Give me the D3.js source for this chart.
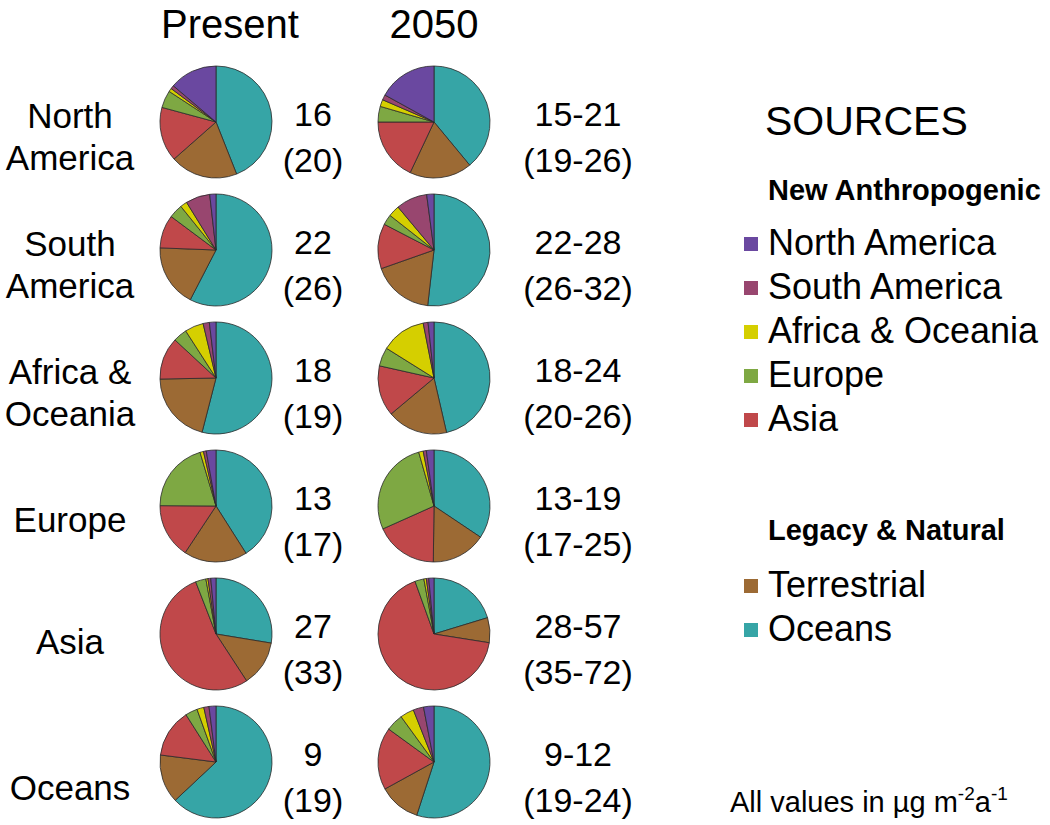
<!DOCTYPE html>
<html>
<head>
<meta charset="utf-8">
<script src="https://cdn.jsdelivr.net/npm/d3@7"></script>
<style>
  body { margin: 0; background: #fff; }
  svg { font-family: "Liberation Sans", Arial, sans-serif; }
</style>
</head>
<body>
<svg id="chart" width="1050" height="825" viewBox="0 0 1050 825"></svg>
<script>
// receptor regions (rows) and their labels
const regions = ["North America", "South America", "Africa & Oceania", "Europe", "Asia", "Oceans"];
const rowLabels = [["North", "America"], ["South", "America"], ["Africa &", "Oceania"], ["Europe"], ["Asia"], ["Oceans"]];
const periods = ["Present", "2050"];

// source order, clockwise from 12 o'clock
const sources = ["Oceans", "Terrestrial", "Asia", "Europe", "Africa & Oceania", "South America", "North America"];
const sourceColors = ["#36a5a6", "#9c6a34", "#c0484a", "#7ea843", "#d5cf00", "#98466f", "#6a48a0"];

// percent contribution of each source, per receptor region
const presentShares = [
  [44, 19.5, 15.7, 5, 1, 1, 13.8],
  [57.6, 18, 9.6, 4, 2, 7, 1.8],
  [54, 20.7, 12.2, 4, 5.4, 1.8, 1.9],
  [41, 18.3, 15.8, 20.3, 1, 0.8, 2.8],
  [27.6, 13.2, 53.3, 3, 0.6, 0.8, 1.5],
  [63, 14, 14, 3.5, 2, 1.5, 2]
];
const futureShares = [
  [39, 18, 18, 4.5, 2, 1.5, 17],
  [51.8, 17.8, 13, 3, 3.3, 9, 2.1],
  [46.4, 17.5, 14.6, 5.4, 13, 1.4, 1.7],
  [34.4, 15.8, 18.1, 27.3, 1.3, 0.9, 2.2],
  [20.3, 7.2, 67, 2.6, 0.7, 0.7, 1.5],
  [55, 12, 18, 5, 4, 3, 3]
];

// totals printed beside each pie
const presentTotals = ["16", "22", "18", "13", "27", "9"];
const presentTotalsAlt = ["(20)", "(26)", "(19)", "(17)", "(33)", "(19)"];
const futureTotals = ["15-21", "22-28", "18-24", "13-19", "28-57", "9-12"];
const futureTotalsAlt = ["(19-26)", "(26-32)", "(20-26)", "(17-25)", "(35-72)", "(19-24)"];

// legend groups
const anthropogenic = ["North America", "South America", "Africa & Oceania", "Europe", "Asia"];
const legacy = ["Terrestrial", "Oceans"];

const svg = d3.select("#chart");

const y = d3.scalePoint().domain(regions).range([122, 762]);
const x = d3.scalePoint().domain(periods).range([216, 434]);
const color = d3.scaleOrdinal().domain(sources).range(sourceColors);

const radius = 56;
const pie = d3.pie().sort(null).value(d => d.v);
const arc = d3.arc().innerRadius(0).outerRadius(radius);

// column titles
svg.selectAll("text.title")
  .data(periods)
  .enter().append("text")
  .attr("class", "title")
  .attr("x", (d, i) => i == 0 ? 230 : 434)
  .attr("y", 38)
  .attr("text-anchor", "middle")
  .style("font-size", "40px")
  .text(d => d);

// row labels (single-line labels sit a little lower)
const singleOffset = { "Europe": 26, "Asia": 20, "Oceans": 38 };
const labels = svg.selectAll("text.rowlabel")
  .data(regions)
  .enter().append("text")
  .attr("class", "rowlabel")
  .attr("text-anchor", "middle")
  .style("font-size", "35px");

labels.each(function(d, i) {
  const lines = rowLabels[i];
  const t = d3.select(this);
  lines.forEach((line, j) => {
    const off = lines.length == 1 ? singleOffset[d] : (j == 0 ? 6 : 48);
    t.append("tspan").attr("x", 70).attr("y", y(d) + off).text(line);
  });
});

// pies
function drawPies(shares, period) {
  regions.forEach((r, i) => {
    const vals = sources.map((s, k) => ({ s: s, v: shares[i][k] }));
    svg.append("g")
      .attr("transform", `translate(${x(period)},${y(r)})`)
      .selectAll("path")
      .data(pie(vals))
      .enter().append("path")
      .attr("d", arc)
      .attr("fill", d => color(d.data.s))
      .attr("stroke", "#2a2a2a")
      .attr("stroke-width", 0.8)
      .attr("stroke-linejoin", "round");
  });
}
drawPies(presentShares, "Present");
drawPies(futureShares, "2050");

// totals
function drawTotals(top, bottom, cx) {
  regions.forEach((r, i) => {
    const t = svg.append("text")
      .attr("text-anchor", "middle")
      .style("font-size", "34px");
    t.append("tspan").attr("x", cx).attr("y", y(r) + 4).text(top[i]);
    t.append("tspan").attr("x", cx).attr("y", y(r) + 50).text(bottom[i]);
  });
}
drawTotals(presentTotals, presentTotalsAlt, 313);
drawTotals(futureTotals, futureTotalsAlt, 578);

// legend
const legend = svg.append("g");
legend.append("text")
  .attr("x", 765).attr("y", 135)
  .style("font-size", "41px")
  .text("SOURCES");

legend.append("text")
  .attr("x", 768).attr("y", 200)
  .style("font-size", "29px").style("font-weight", "bold")
  .text("New Anthropogenic");

legend.append("text")
  .attr("x", 768).attr("y", 540)
  .style("font-size", "29px").style("font-weight", "bold")
  .text("Legacy & Natural");

function legendItems(keys, y0) {
  const g = legend.selectAll(null)
    .data(keys)
    .enter().append("g")
    .attr("transform", (d, i) => `translate(0,${y0 + i * 44})`);
  g.append("rect")
    .attr("x", 744).attr("y", -18)
    .attr("width", 14).attr("height", 14)
    .attr("fill", d => color(d));
  g.append("text")
    .attr("x", 768).attr("y", 0)
    .style("font-size", "36px")
    .text(d => d);
}
legendItems(anthropogenic, 255);
legendItems(legacy, 597);

// units note
const note = svg.append("text")
  .attr("x", 730).attr("y", 812)
  .style("font-size", "29px");
note.append("tspan").text("All values in \u00b5g m");
note.append("tspan").attr("dy", -12).style("font-size", "19px").text("-2");
note.append("tspan").attr("dy", 12).text("a");
note.append("tspan").attr("dy", -12).style("font-size", "19px").text("-1");
</script>
</body>
</html>
